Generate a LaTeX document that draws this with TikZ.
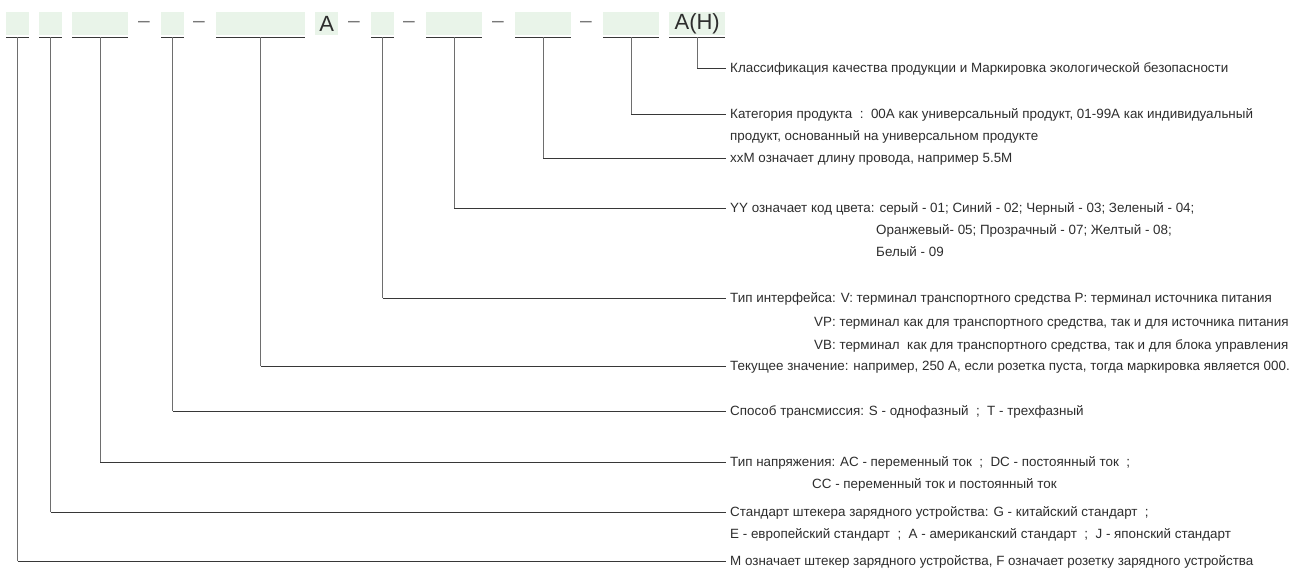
\documentclass[tikz,border=0pt]{standalone}
\usepackage{fontspec}
\setmainfont{Liberation Sans}
\definecolor{boxgreen}{RGB}{233,244,233}
\definecolor{txt}{RGB}{45,45,45}
\definecolor{hl}{RGB}{55,55,55}
\definecolor{vl}{RGB}{110,110,110}
\definecolor{dashc}{RGB}{120,120,120}
\begin{document}
\begin{tikzpicture}[x=1pt,y=-1pt,
  codebox/.style={fill=boxgreen, inner sep=0pt, minimum height=23pt, anchor=north west,
    text=txt, font=\fontsize{22}{22}\selectfont},
  uline/.style={draw=hl, line width=1.1pt},
  vline/.style={draw=vl, line width=1pt},
  hline/.style={draw=hl, line width=1pt},
  sep/.style={text=dashc, inner sep=0pt, font=\fontsize{21}{21}\selectfont},
  lbl/.style={anchor=west, inner xsep=4pt, inner ysep=0pt, text height=9.6pt, text depth=0pt,
    text=txt, font=\fontsize{13.4}{15}\selectfont},
  cont/.style={lbl, inner xsep=0pt}]
\useasboundingbox (0,0) rectangle (1293,568);
% code boxes
\node[codebox, minimum width=23pt] (b1) at (6,12) {};
\node[codebox, minimum width=23pt] (b2) at (39,12) {};
\node[codebox, minimum width=56pt] (b3) at (72,12) {};
\node[sep] (d1) at (144,24) {–};
\node[codebox, minimum width=23pt] (b4) at (161,12) {};
\node[sep] (d2) at (199,24) {–};
\node[codebox, minimum width=89pt] (b5) at (216,12) {};
\node[codebox, minimum width=23pt] (bA) at (315,12) {A};
\node[sep] (d3) at (354,24) {–};
\node[codebox, minimum width=23pt] (b6) at (371,12) {};
\node[sep] (d4) at (409,24) {–};
\node[codebox, minimum width=56pt] (b7) at (426,12) {};
\node[sep] (d5) at (498,24) {–};
\node[codebox, minimum width=56pt] (b8) at (515,12) {};
\node[sep] (d6) at (586,24) {–};
\node[codebox, minimum width=56pt] (b9) at (603,12) {};
\node[codebox, minimum width=56pt] (bH) at (669,12) {A(H)};
% underlines
\foreach \b in {b1,b2,b3,b4,b5,b6,b7,b8,b9,bH}
  \draw[uline] ([yshift=-2pt]\b.south west) -- coordinate (u\b) ([yshift=-2pt]\b.south east);
% labels
\node[lbl] (tH) at (726,68) {Классификация качества продукции и Маркировка экологической безопасности};
\node[lbl] (t9) at (726,114) {Категория продукта\ \ :\ \ 00A как универсальный продукт, 01-99A как индивидуальный};
\node[cont] (t9b) at (730,136) {продукт, основанный на универсальном продукте};
\node[lbl] (t8) at (726,158) {xxM означает длину провода, например 5.5M};
\node[lbl] (t7) at (726,208) {YY означает код цвета: серый - 01; Синий - 02; Черный - 03; Зеленый - 04;};
\node[cont] (t7b) at (876,230) {Оранжевый- 05; Прозрачный - 07; Желтый - 08;};
\node[cont] (t7c) at (876,252) {Белый - 09};
\node[lbl] (t6) at (726,298) {Тип интерфейса: V: терминал транспортного средства P: терминал источника питания};
\node[cont] (t6b) at (814,322) {VP: терминал как для транспортного средства, так и для источника питания};
\node[cont] (t6c) at (814,345) {VB: терминал\ \ как для транспортного средства, так и для блока управления};
\node[lbl] (t5) at (726,366) {Текущее значение: например, 250 A, если розетка пуста, тогда маркировка является 000.};
\node[lbl] (t4) at (726,411) {Способ трансмиссия: S - однофазный\ \ ;\ \ T - трехфазный};
\node[lbl] (t3) at (726,462) {Тип напряжения: AC - переменный ток\ \ ;\ \ DC - постоянный ток\ \ ;};
\node[cont] (t3b) at (812,484) {CC - переменный ток и постоянный ток};
\node[lbl] (t2) at (726,512) {Стандарт штекера зарядного устройства: G - китайский стандарт\ \ ;};
\node[cont] (t2b) at (730,534) {E - европейский стандарт\ \ ;\ \ A - американский стандарт\ \ ;\ \ J - японский стандарт};
\node[lbl] (t1) at (726,561) {M означает штекер зарядного устройства, F означает розетку зарядного устройства};
% connectors
\foreach \b/\t in {bH/tH,b9/t9,b8/t8,b7/t7,b6/t6,b5/t5,b4/t4,b3/t3,b2/t2,b1/t1}{
  \coordinate (c\b) at (u\b |- \t.west);
  \draw[vline] (u\b) -- (c\b);
  \draw[hline] (c\b) -- (\t.west);
}
\end{tikzpicture}
\end{document}
